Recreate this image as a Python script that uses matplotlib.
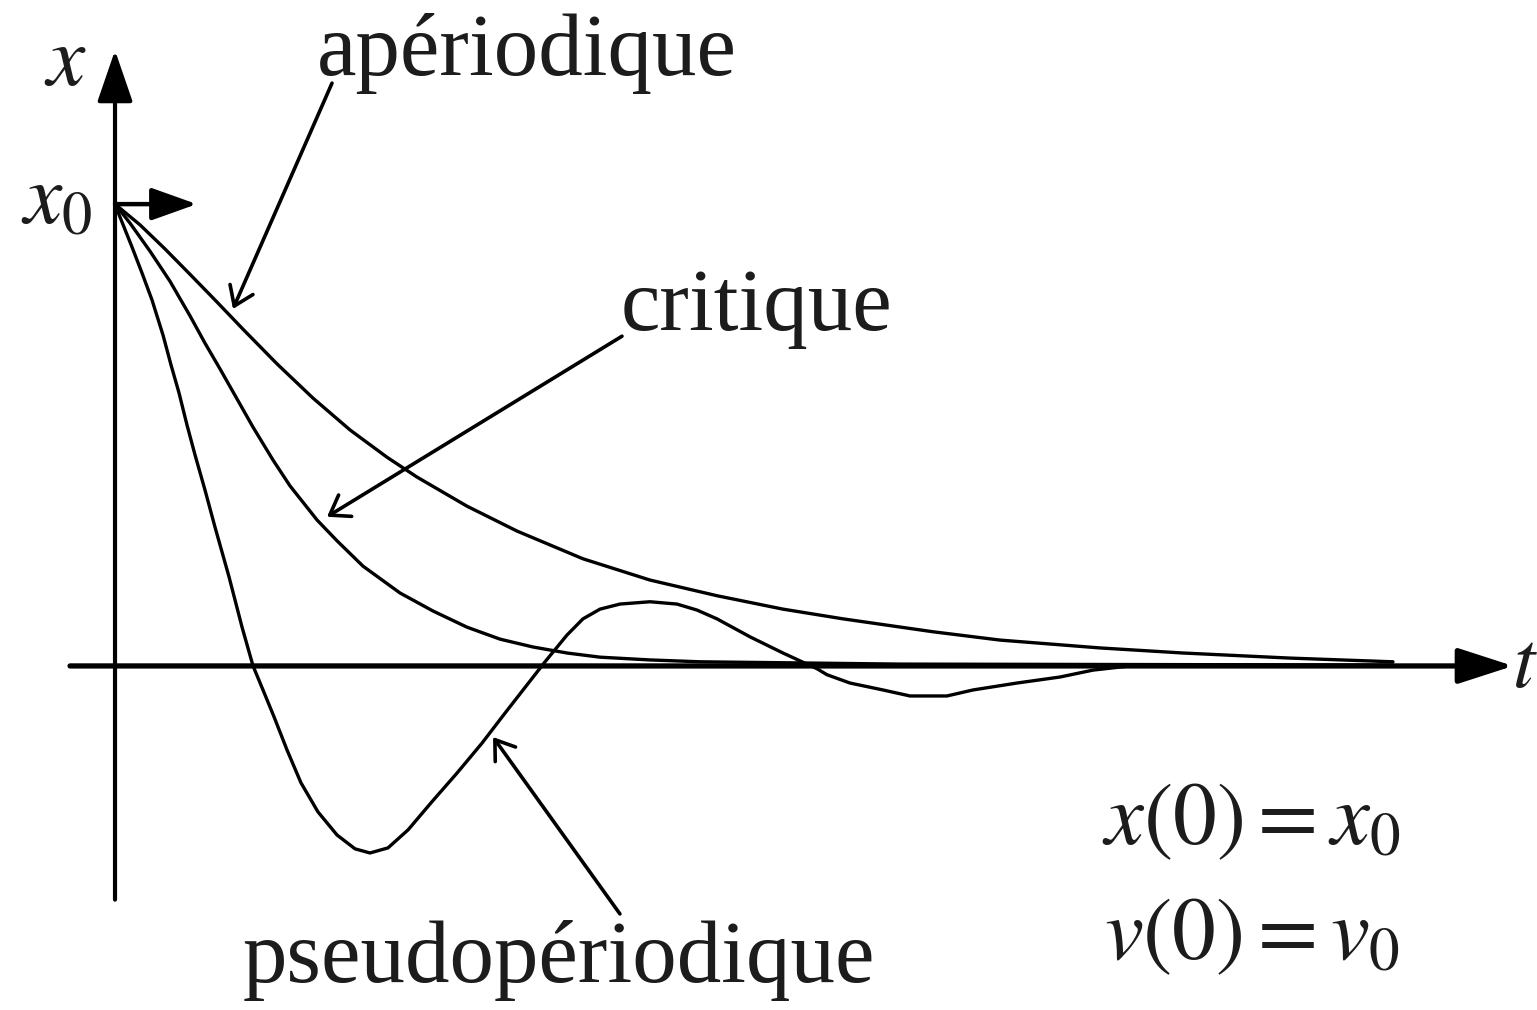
import matplotlib
matplotlib.use("Agg")
import matplotlib.pyplot as plt
from matplotlib.patches import FancyArrowPatch

plt.rcParams['mathtext.fontset'] = 'stix'
plt.rcParams['font.family'] = ['Liberation Serif', 'DejaVu Serif']

# ---- curves (t, x with x(0) = x0 = 1) ----
aper_t = [0, 0.196, 0.391, 0.587, 0.798, 1.002, 1.268, 1.549, 1.839, 2.128, 2.363, 2.754,
          3.146, 3.662, 4.186, 4.711, 5.227, 5.696, 6.401, 6.925, 7.707, 8.357, 9.194, 10.0]
aper_x = [1.0, 0.955, 0.903, 0.848, 0.788, 0.729, 0.654, 0.580, 0.511, 0.452, 0.409, 0.346,
          0.292, 0.232, 0.186, 0.152, 0.123, 0.102, 0.074, 0.056, 0.039, 0.028, 0.017, 0.009]

crit_t = [0, 0.117, 0.274, 0.430, 0.587, 0.704, 0.822, 0.955, 1.080, 1.236, 1.369, 1.581,
          1.737, 1.941, 2.230, 2.488, 2.754, 3.013, 3.271, 3.537, 3.795, 4.186, 4.577, 6.142, 10.0]
crit_x = [1.0, 0.959, 0.898, 0.833, 0.758, 0.699, 0.643, 0.578, 0.517, 0.446, 0.390, 0.316,
          0.271, 0.216, 0.158, 0.119, 0.084, 0.058, 0.041, 0.028, 0.019, 0.013, 0.009, 0.004, 0.002]

pseudo_t = [0, 0.039, 0.133, 0.211, 0.290, 0.376, 0.438, 0.501, 0.563, 0.626, 0.704, 0.782,
            0.892, 0.994, 1.080, 1.158, 1.244, 1.346, 1.455, 1.588, 1.737, 1.878, 1.995,
            2.136, 2.293, 2.480, 2.676, 2.872, 3.052, 3.224, 3.365, 3.537, 3.662, 3.795,
            3.951, 4.186, 4.397, 4.554, 4.710, 4.969, 5.227, 5.360, 5.493, 5.571, 5.751,
            6.009, 6.221, 6.510, 6.714, 7.058, 7.394, 7.653, 7.942, 10.0]
pseudo_x = [1.0, 0.972, 0.907, 0.851, 0.792, 0.716, 0.652, 0.591, 0.522, 0.457, 0.381, 0.301,
            0.193, 0.084, 0.0, -0.052, -0.110, -0.182, -0.253, -0.316, -0.366, -0.396, -0.405,
            -0.394, -0.355, -0.294, -0.232, -0.167, -0.102, -0.041, 0.009, 0.067, 0.102, 0.123,
            0.134, 0.139, 0.134, 0.121, 0.102, 0.063, 0.028, 0.011, -0.006, -0.019, -0.037,
            -0.052, -0.065, -0.065, -0.052, -0.037, -0.024, -0.009, 0.0, 0.0]

labels = ['apériodique', 'critique', 'pseudopériodique']
label_pos = [(3.224, 1.279), (5.016, 0.727), (3.474, -0.684)]
arrow_tail = [(1.698, 1.262), (3.967, 0.714), (3.951, -0.537)]
arrow_head = [(0.923, 0.773), (1.659, 0.323), (2.958, -0.154)]

init_texts = [r'$x(0) = x_0$', r'$v(0) = v_0$']
init_pos = [(10.055, -0.387), (10.055, -0.634)]

ink = '#1c1c1c'

fig = plt.figure(figsize=(15.37, 10.10), dpi=100)
ax = fig.add_axes([0, 0, 1, 1])
ax.set_xlim(-0.900, 11.127)
ax.set_ylim(-0.745, 1.442)
ax.axis('off')

# axes with arrows
ax.add_patch(FancyArrowPatch((-0.352, 0), (10.94, 0), arrowstyle='-|>,head_length=34,head_width=11',
                             mutation_scale=1, lw=3.8, color='k', shrinkA=0, shrinkB=0))
ax.add_patch(FancyArrowPatch((0, -0.506), (0, 1.333), arrowstyle='-|>,head_length=32,head_width=11',
                             mutation_scale=1, lw=3.0, color='k', shrinkA=0, shrinkB=0))
# initial velocity arrow
ax.add_patch(FancyArrowPatch((0, 1.0), (0.64, 1.0), arrowstyle='-|>,head_length=28,head_width=10',
                             mutation_scale=1, lw=3.2, color='k', shrinkA=0, shrinkB=0))

for tt, xx in [(aper_t, aper_x), (crit_t, crit_x), (pseudo_t, pseudo_x)]:
    ax.plot(tt, xx, color='k', lw=2.4, solid_joinstyle='round', solid_capstyle='round')

for lab, pos, tail, head in zip(labels, label_pos, arrow_tail, arrow_head):
    ax.text(pos[0], pos[1], lab, ha='center', va='baseline', fontsize=64, color=ink)
    ax.add_patch(FancyArrowPatch(tail, head, arrowstyle='->,head_length=13,head_width=9',
                                 mutation_scale=1, lw=2.6, color='k', shrinkA=0, shrinkB=0))

for s, pos in zip(init_texts, init_pos):
    ax.text(pos[0], pos[1], s, ha='right', va='baseline', fontsize=63, color=ink)

ax.text(-0.391, 1.258, r'$x$', ha='center', va='baseline', fontsize=62, color=ink)
ax.text(-0.18, 0.959, r'$x_0$', ha='right', va='baseline', fontsize=62, color=ink)
ax.text(10.93, -0.045, r'$t$', ha='left', va='baseline', fontsize=58, color=ink)

fig.savefig('out.png', dpi=100)
